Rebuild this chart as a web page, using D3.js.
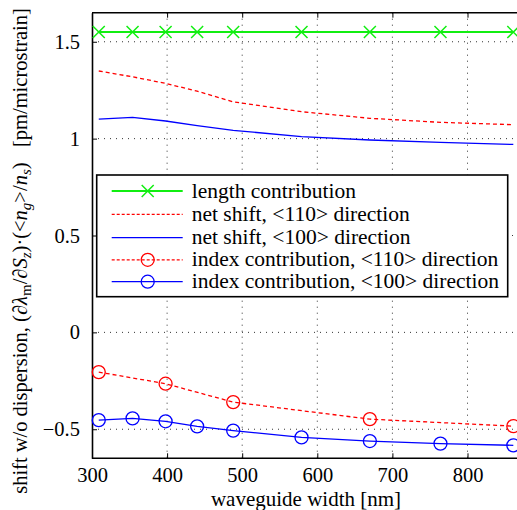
<!DOCTYPE html>
<html>
<head>
<meta charset="utf-8">
<script src="https://cdn.jsdelivr.net/npm/d3@7"></script>
</head>
<body style="margin:0;background:#fff">
<div id="app"></div>
<script>
// waveguide widths [nm]
const widths = [309, 354, 398, 440, 488, 579, 670, 764, 861];
const idx110Widths = [309, 398, 488, 670, 861];

const lengthContrib = [1.55, 1.55, 1.55, 1.55, 1.55, 1.55, 1.55, 1.55, 1.55];
const net110 = [1.349, 1.319, 1.285, 1.245, 1.19, 1.139, 1.105, 1.084, 1.072];
const net100 = [1.101, 1.110, 1.091, 1.067, 1.043, 1.010, 0.993, 0.981, 0.970];
const idx110 = [-0.205, -0.265, -0.36, -0.448, -0.484];
const idx100 = [-0.453, -0.444, -0.459, -0.485, -0.507, -0.542, -0.561, -0.574, -0.583];

const xTicks = [300, 400, 500, 600, 700, 800];
const yTicks = [-0.5, 0, 0.5, 1, 1.5];

const FONT = "'Liberation Serif', 'Times New Roman', serif";
const W = 517, H = 510;
const pLeft = 92, pTop = 12.7, pBottom = 458.3;

const x = d3.scaleLinear().domain([300, 900]).range([pLeft, pLeft + 450.6]);
const y = d3.scaleLinear().domain([-0.65, 1.65]).range([pBottom, pTop]);

const svg = d3.select("#app").append("svg").attr("width", W).attr("height", H)
	.style("display", "block").attr("font-family", FONT);

// dotted grid
const grid = svg.append("g").attr("stroke", "#333").attr("stroke-width", 1).attr("stroke-dasharray", "1,5");
grid.selectAll("line.gx").data(xTicks.slice(1)).enter().append("line")
	.attr("x1", d => x(d)).attr("x2", d => x(d)).attr("y1", pTop).attr("y2", pBottom);
grid.selectAll("line.gy").data(yTicks).enter().append("line")
	.attr("y1", d => y(d)).attr("y2", d => y(d)).attr("x1", pLeft).attr("x2", W);

// axes
const xAxis = d3.axisBottom(x).tickValues(xTicks).tickSizeInner(-5).tickSizeOuter(0).tickPadding(9);
const yAxis = d3.axisLeft(y).tickValues(yTicks).tickSizeInner(-5).tickSizeOuter(0).tickPadding(12)
	.tickFormat(d => d < 0 ? "\u2212" + Math.abs(d) : d);

const gx = svg.append("g").attr("transform", "translate(0," + pBottom + ")").call(xAxis);
const gy = svg.append("g").attr("transform", "translate(" + pLeft + ",0)").call(yAxis);
const gxTop = svg.append("g").attr("transform", "translate(0," + pTop + ")")
	.call(d3.axisTop(x).tickValues(xTicks).tickSizeInner(-5).tickSizeOuter(0).tickFormat(""));
[gx, gy, gxTop].forEach(g => {
	g.attr("font-family", FONT).attr("font-size", 20.5);
	g.select(".domain").attr("stroke", "#000").attr("stroke-width", 1.6);
	g.selectAll(".tick line").attr("stroke", "#000");
	g.selectAll(".tick text").attr("fill", "#000");
});
gx.select(".domain").attr("d", "M" + pLeft + ",0H" + W);
gxTop.select(".domain").attr("d", "M" + pLeft + ",0H" + W);

svg.append("text").attr("x", 306).attr("y", 506).attr("text-anchor", "middle")
	.attr("font-size", 21).text("waveguide width [nm]");

// y label
const yl = svg.append("text").attr("transform", "translate(27,251) rotate(-90)")
	.attr("text-anchor", "middle").attr("font-size", 20.5);
function part(txt, it, sub){
	const t = yl.append("tspan").text(txt);
	if(it) t.attr("font-style", "italic");
	if(sub == 1) t.attr("font-size", 15).attr("dy", 4);
	if(sub == -1) t.attr("dy", -4);
	return t;
}
part("shift w/o dispersion, (\u2202");
part("\u03bb", true);
part("m", false, 1);
part("/\u2202", false, -1);
part("S", true);
part("z", true, 1);
part(")\u00b7(<", false, -1);
part("n", true);
part("g", true, 1);
part(">/", false, -1);
part("n", true);
part("s", true, 1);
part(")\u00a0\u00a0\u00a0[pm/microstrain]", false, -1);

// series
const series = [
	{name: "length contribution", xs: widths, ys: lengthContrib, color: "#11ee11", dash: null, width: 2, marker: "x"},
	{name: "net shift, <110> direction", xs: widths, ys: net110, color: "#ff0000", dash: "4,3", width: 1.3, marker: null},
	{name: "net shift, <100> direction", xs: widths, ys: net100, color: "#0000ff", dash: null, width: 1.3, marker: null},
	{name: "index contribution, <110> direction", xs: idx110Widths, ys: idx110, color: "#ff0000", dash: "4,3", width: 1.3, marker: "o"},
	{name: "index contribution, <100> direction", xs: widths, ys: idx100, color: "#0000ff", dash: null, width: 1.3, marker: "o"}
];

const line = d3.line().x(d => x(d[0])).y(d => y(d[1]));

function drawMarker(g, kind, cx, cy, color){
	if(kind == "x"){
		g.append("path").attr("d", "M" + (cx-6) + "," + (cy-6) + "L" + (cx+6) + "," + (cy+6) + "M" + (cx-6) + "," + (cy+6) + "L" + (cx+6) + "," + (cy-6))
			.attr("stroke", color).attr("stroke-width", 1.5).attr("fill", "none");
	}else if(kind == "o"){
		g.append("circle").attr("cx", cx).attr("cy", cy).attr("r", 6.5)
			.attr("stroke", color).attr("stroke-width", 1.3).attr("fill", "none");
	}
}

const plot = svg.append("g");
series.forEach(s => {
	const pts = s.xs.map((v, i) => [v, s.ys[i]]);
	plot.append("path").attr("d", line(pts)).attr("fill", "none")
		.attr("stroke", s.color).attr("stroke-width", s.width).attr("stroke-dasharray", s.dash);
	if(s.marker){
		pts.forEach(p => drawMarker(plot, s.marker, x(p[0]), y(p[1]), s.color));
	}
});

// legend
const lg = svg.append("g");
lg.append("rect").attr("x", 96.7).attr("y", 175).attr("width", 411).attr("height", 121.7)
	.attr("fill", "#fff").attr("stroke", "#000").attr("stroke-width", 1.6);
const rowY = [191, 214.3, 237.7, 259.8, 281.7];
series.forEach((s, i) => {
	const ry = rowY[i];
	lg.append("line").attr("x1", 111.7).attr("x2", 182.7).attr("y1", ry).attr("y2", ry)
		.attr("stroke", s.color).attr("stroke-width", s.width).attr("stroke-dasharray", s.dash ? "3,2" : null);
	if(s.marker) drawMarker(lg, s.marker, 147.7, ry, s.color);
	lg.append("text").attr("x", 191.7).attr("y", ry + 6.5).attr("font-size", 21.5).text(s.name);
});
</script>
</body>
</html>
